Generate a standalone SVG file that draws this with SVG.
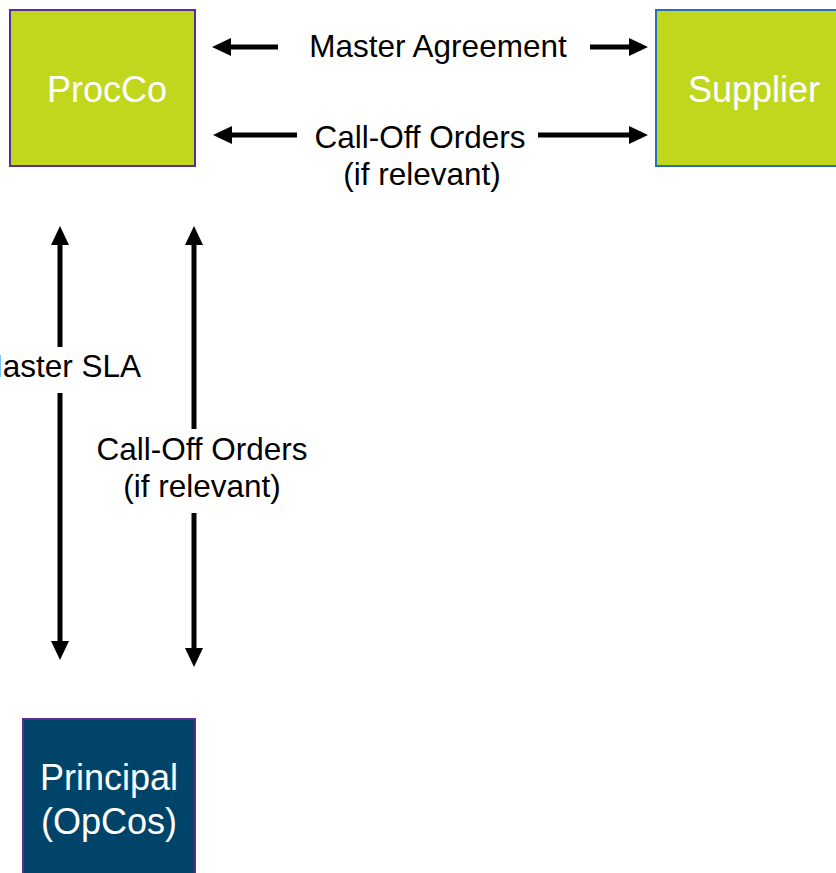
<svg xmlns="http://www.w3.org/2000/svg" width="836" height="873" viewBox="0 0 836 873">
<style>
.lbl{font-family:"Liberation Sans",Arial,sans-serif;font-size:31.5px;fill:#000;text-anchor:middle}
.nt{font-family:"Liberation Sans",Arial,sans-serif;font-size:36px;fill:#fff;text-anchor:middle}
.ln{stroke:#000;stroke-width:5;fill:none}
.ah{fill:#000}
</style>
<rect width="836" height="873" fill="#fff"/>
<g id="procco">
<rect x="10" y="10" width="185" height="156" fill="#c0d71e" stroke="#5c2d91" stroke-width="2"/>
<text class="nt" x="107" y="102">ProcCo</text>
</g>
<g id="supplier">
<rect x="656" y="10" width="190" height="156" fill="#c0d71e" stroke="#2471b5" stroke-width="2"/>
<text class="nt" x="754" y="102">Supplier</text>
</g>
<g id="principal">
<rect x="23" y="719" width="172" height="170" fill="#00446a" stroke="#5c2d91" stroke-width="2"/>
<text class="nt" x="109" y="790">Principal</text>
<text class="nt" x="109" y="834">(OpCos)</text>
</g>
<g id="connectors">
<line class="ln" x1="228" y1="47" x2="278" y2="47"/>
<polygon class="ah" points="212,47 231,38 231,56"/>
<line class="ln" x1="590" y1="47" x2="632" y2="47"/>
<polygon class="ah" points="648,47 629,38 629,56"/>
<text class="lbl" x="438" y="57">Master Agreement</text>

<line class="ln" x1="229" y1="135" x2="297" y2="135"/>
<polygon class="ah" points="213,135 232,126 232,144"/>
<line class="ln" x1="538" y1="135" x2="632" y2="135"/>
<polygon class="ah" points="648,135 629,126 629,144"/>
<text class="lbl" x="420" y="148">Call-Off Orders</text>
<text class="lbl" x="422" y="185">(if relevant)</text>

<line class="ln" x1="60" y1="242" x2="60" y2="347"/>
<polygon class="ah" points="60,226 51,245 69,245"/>
<line class="ln" x1="60" y1="393" x2="60" y2="644"/>
<polygon class="ah" points="60,660 51,641 69,641"/>
<text class="lbl" x="141" y="377" style="text-anchor:end">Master SLA</text>

<line class="ln" x1="194" y1="242" x2="194" y2="429"/>
<polygon class="ah" points="194,226 185,245 203,245"/>
<line class="ln" x1="194" y1="513" x2="194" y2="650"/>
<polygon class="ah" points="194,667 185,648 203,648"/>
<text class="lbl" x="202" y="460">Call-Off Orders</text>
<text class="lbl" x="202" y="497">(if relevant)</text>
</g>
</svg>
